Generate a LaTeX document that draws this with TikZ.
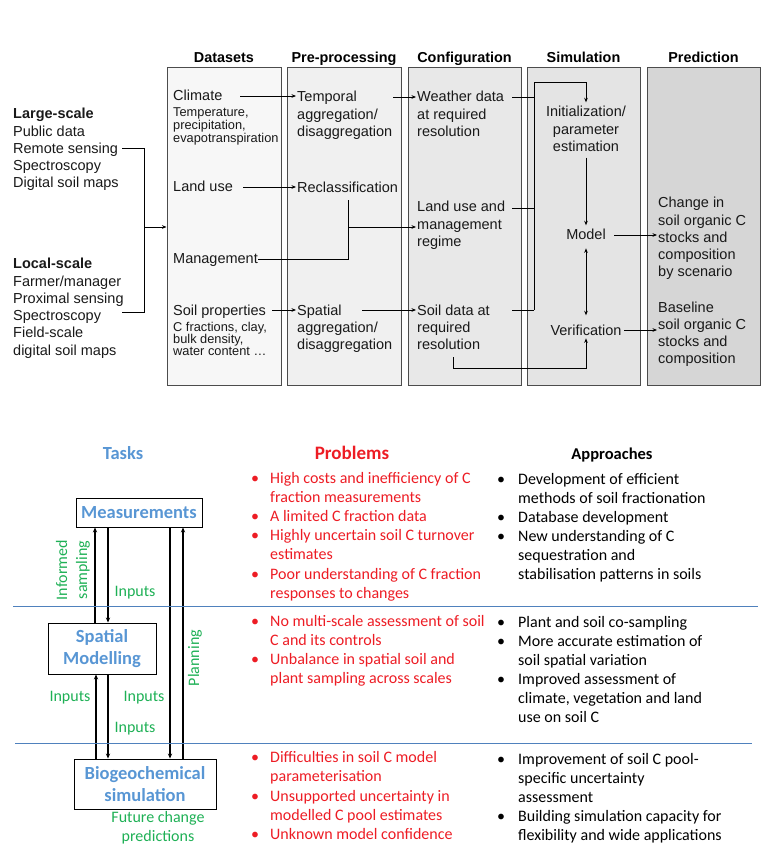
\documentclass[tikz,border=0pt]{standalone}
\usepackage{fontspec}
\setmainfont{Liberation Sans}
\newfontfamily\calibri{Carlito}
\usetikzlibrary{arrows.meta}
\definecolor{taskblue}{RGB}{88,150,212}
\definecolor{probred}{RGB}{237,28,36}
\definecolor{labgreen}{RGB}{30,176,85}
\definecolor{sepblue}{RGB}{79,129,189}
\definecolor{dsfill}{HTML}{F7F7F7}
\definecolor{ppfill}{HTML}{F0F0F0}
\definecolor{cffill}{HTML}{E8E8E8}
\definecolor{smfill}{HTML}{E4E4E4}
\definecolor{pdfill}{HTML}{D6D6D6}
\newcommand\Lstk[1]{\vtop{\halign{##\hfil\cr#1\crcr}}}
\newcommand\Cstk[1]{\vtop{\halign{\hfil##\hfil\cr#1\crcr}}}
\tikzset{
  colbox/.style={draw=black!70, line width=1pt, minimum height=317pt, inner sep=0},
  hdr/.style={font=\bfseries\fontsize{14.4}{17}\selectfont, inner sep=0, anchor=base},
  txt/.style={font=\fontsize{14.5}{17.2}\selectfont, inner sep=0, anchor=base west, text=black!90},
  ctxt/.style={font=\fontsize{14.5}{17.2}\selectfont, inner sep=0, anchor=base, text=black!90},
  sml/.style={font=\fontsize{12.8}{11.9}\selectfont, inner sep=0, anchor=base west, text=black!90},
  arr/.style={-{Stealth[length=4.5pt,width=3.6pt]}, line width=0.8pt},
  ln/.style={line width=0.9pt},
  thk/.style={line width=1.6pt},
  taskbox/.style={draw=black, line width=0.9pt, font=\calibri\bfseries\fontsize{18.5}{22.5}\selectfont, text=taskblue, inner sep=0},
  barr/.style={-{Stealth[length=5pt,width=4.2pt]}, line width=1.1pt},
  lbl/.style={font=\calibri\fontsize{16}{20}\selectfont, text=labgreen, inner sep=0},
  prob/.style={font=\calibri\fontsize{16}{19}\selectfont, text=probred, inner sep=0, anchor=base west},
  appr/.style={font=\calibri\fontsize{16}{19}\selectfont, text=black, inner sep=0, anchor=base west},
  sep/.style={draw=sepblue, line width=0.8pt}
}
\begin{document}
\begin{tikzpicture}[x=1pt,y=-1pt]
\useasboundingbox (0,0) rectangle (768,866);
% ---------- top: columns ----------
\node[colbox, fill=dsfill, minimum width=114pt] (dsbox) at (224,226.5) {};
\node[colbox, fill=ppfill, minimum width=114pt] (ppbox) at (344,226.5) {};
\node[colbox, fill=cffill, minimum width=113pt] (cfbox) at (464.5,226.5) {};
\node[colbox, fill=smfill, minimum width=113pt] (smbox) at (583.5,226.5) {};
\node[colbox, fill=pdfill, minimum width=113pt] (pdbox) at (703.5,226.5) {};
\node[hdr] (hds) at (224,63) {Datasets};
\node[hdr] (hpp) at (344,63) {Pre-processing};
\node[hdr] (hcf) at (464.5,63) {Configuration};
\node[hdr] (hsm) at (583.5,63) {Simulation};
\node[hdr] (hpd) at (703.5,63) {Prediction};
% left sources
\node[txt] (large) at (13,119) {\Lstk{\textbf{Large-scale}\cr Public data\cr Remote sensing\cr Spectroscopy\cr Digital soil maps}};
\node[txt] (local) at (13,269) {\Lstk{\textbf{Local-scale}\cr Farmer/manager\cr Proximal sensing\cr Spectroscopy\cr Field-scale\cr digital soil maps}};
\coordinate (b1) at (122,148);
\coordinate (b2) at (144,148);
\coordinate (b3) at (144,312);
\coordinate (b4) at (122,312);
\coordinate (bm) at (144,227);
\draw[ln] (b1) -- (b2) -- (b3) -- (b4);
\draw[arr] (bm) -- (bm -| dsbox.west);
% datasets
\node[txt] (climate) at (173,101) {Climate};
\node[sml] (climsub) at (173,117) {\Lstk{Temperature,\cr precipitation,\cr evapotranspiration}};
\node[txt] (landuse) at (173,192) {Land use};
\node[txt] (mgmt) at (173,264) {Management};
\node[txt] (soilprop) at (173,315) {Soil properties};
\node[sml] (soilsub) at (173,331) {\Lstk{C fractions, clay,\cr bulk density,\cr water content …}};
% pre-processing
\node[txt] (temporal) at (297,102) {\Lstk{Temporal\cr aggregation/\cr disaggregation}};
\node[txt] (reclass) at (297,193) {Reclassification};
\node[txt] (spatial) at (297,315) {\Lstk{Spatial\cr aggregation/\cr disaggregation}};
% configuration
\node[txt] (weather) at (417,102) {\Lstk{Weather data\cr at required\cr resolution}};
\node[txt] (lumgmt) at (417,212) {\Lstk{Land use and\cr management\cr regime}};
\node[txt] (soildata) at (417,315) {\Lstk{Soil data at\cr required\cr resolution}};
% simulation
\node[ctxt] (init) at (586,117) {\Cstk{Initialization/\cr parameter\cr estimation}};
\node[ctxt] (model) at (586,240) {Model};
\node[ctxt] (verif) at (586,335) {Verification};
% prediction
\node[txt] (change) at (658,208) {\Lstk{Change in\cr soil organic C\cr stocks and\cr composition\cr by scenario}};
\node[txt] (baseline) at (658,312) {\Lstk{Baseline\cr soil organic C\cr stocks and\cr composition}};
% top connectors
\coordinate (c1) at (240,96);
\coordinate (c2) at (243,187);
\coordinate (c3) at (258,259);
\coordinate (mtop) at (348,200);
\coordinate (mj) at (348,227);
\coordinate (c4) at (272,310);
\coordinate (c5) at (393,97);
\coordinate (c6) at (362,310);
\draw[arr, shorten >=1pt] (c1) -- (c1 -| temporal.west);
\draw[arr, shorten >=1pt] (c2) -- (c2 -| reclass.west);
\draw[ln] (c3) -| (mtop);
\draw[arr, shorten >=1pt] (mj) -- (mj -| lumgmt.west);
\draw[arr, shorten >=1pt] (c4) -- (c4 -| spatial.west);
\draw[arr, shorten >=1pt] (c5) -- (c5 -| weather.west);
\draw[arr, shorten >=1pt] (c6) -- (c6 -| soildata.west);
\coordinate (w1) at (512,97);
\coordinate (l1) at (512,208);
\coordinate (s1) at (512,310);
\coordinate (busT) at (534,82);
\coordinate (busB) at (534,310);
\draw[ln] (w1) -- (w1 -| busT);
\draw[ln] (l1) -- (l1 -| busT);
\draw[ln] (s1) -- (busB);
\draw[thk, arr] (busB) -- (busT) -| ([yshift=4pt]init.north);
\coordinate (sd1) at (453,357);
\coordinate (sd2) at (453,368);
\draw[thk, arr] (sd1) -- (sd2) -| ([yshift=-3pt]verif.south);
\draw[arr, shorten <=6pt, shorten >=4pt] (init.south) -- (model.north);
\draw[{Stealth[length=4.5pt,width=3.6pt]}-{Stealth[length=4.5pt,width=3.6pt]}, line width=0.8pt, shorten <=8pt, shorten >=9pt] (model.south) -- (verif.north);
\coordinate (m1) at (614,235);
\coordinate (v1) at (624,330);
\draw[arr, shorten >=1pt] (m1) -- (m1 -| change.west);
\draw[arr, shorten >=1pt] (v1) -- (v1 -| baseline.west);
% ---------- bottom ----------
\node[font=\calibri\bfseries\fontsize{18.5}{22}\selectfont, text=taskblue, inner sep=0] (tasks) at (123,453) {Tasks};
\node[font=\calibri\bfseries\fontsize{19}{22}\selectfont, text=probred, inner sep=0] (problems) at (352,453) {Problems};
\node[font=\calibri\bfseries\fontsize{16.5}{22}\selectfont, text=black, inner sep=0] (approaches) at (612,455) {Approaches};
\node[taskbox, minimum width=126pt, minimum height=29pt] (meas) at (139,512.5) {Measurements};
\node[taskbox, minimum width=108pt, minimum height=51pt] (smod) at (102,648.5) {\Cstk{Spatial\cr Modelling}};
\node[taskbox, minimum width=142pt, minimum height=50pt] (bio) at (145,784) {\Cstk{Biogeochemical\cr simulation}};
\draw[barr] ([xshift=-7pt]smod.north) -- ([xshift=-44pt]meas.south);
\draw[barr] ([xshift=-31pt]meas.south) -- ([xshift=6pt]smod.north);
\draw[barr] ([xshift=31pt]meas.south) -- ([xshift=25pt]bio.north);
\draw[barr] ([xshift=38pt]bio.north) -- ([xshift=44pt]meas.south);
\draw[barr] ([xshift=-49pt]bio.north) -- ([xshift=-6pt]smod.south);
\draw[barr] ([xshift=6pt]smod.south) -- ([xshift=-37pt]bio.north);
\node[lbl, rotate=90] (informed) at (73,570) {\Cstk{Informed\cr sampling}};
\node[lbl, rotate=90] (planning) at (195,658) {Planning};
\node[lbl] (in1) at (135,593) {Inputs};
\node[lbl] (in2) at (70,698) {Inputs};
\node[lbl] (in3) at (144,698) {Inputs};
\node[lbl] (in4) at (135,729) {Inputs};
\node[lbl, font=\calibri\fontsize{16}{19}\selectfont] (future) at (158,828) {\Cstk{Future change\cr predictions}};
\coordinate (s1a) at (13,606);
\coordinate (s1b) at (758,606);
\coordinate (s2a) at (15,743);
\coordinate (s2b) at (752,743);
\draw[sep] (s1a) -- (s1b);
\draw[sep] (s2a) -- (s2b);
% problems
\node[prob] (p1) at (251,483.5) {\makebox[19pt][l]{•}\Lstk{High costs and inefficiency of C\cr fraction measurements}};
\node[prob] (p2) at (251,521.5) {\makebox[19pt][l]{•}\Lstk{A limited C fraction data}};
\node[prob] (p3) at (251,540.5) {\makebox[19pt][l]{•}\Lstk{Highly uncertain soil C turnover\cr estimates}};
\node[prob] (p4) at (251,579.5) {\makebox[19pt][l]{•}\Lstk{Poor understanding of C fraction\cr responses to changes}};
\node[prob] (p5) at (251,626.5) {\makebox[19pt][l]{•}\Lstk{No multi-scale assessment of soil\cr C and its controls}};
\node[prob] (p6) at (251,664.5) {\makebox[19pt][l]{•}\Lstk{Unbalance in spatial soil and\cr plant sampling across scales}};
\node[prob] (p7) at (251,762.5) {\makebox[19pt][l]{•}\Lstk{Difficulties in soil C model\cr parameterisation}};
\node[prob] (p8) at (251,801.5) {\makebox[19pt][l]{•}\Lstk{Unsupported uncertainty in\cr modelled C pool estimates}};
\node[prob] (p9) at (251,839.5) {\makebox[19pt][l]{•}\Lstk{Unknown model confidence}};
% approaches
\node[appr] (a1) at (497,484.5) {\makebox[21pt][l]{•}\Lstk{Development of efficient\cr methods of soil fractionation}};
\node[appr] (a2) at (497,522.5) {\makebox[21pt][l]{•}\Lstk{Database development}};
\node[appr] (a3) at (497,541.5) {\makebox[21pt][l]{•}\Lstk{New understanding of C\cr sequestration and\cr stabilisation patterns in soils}};
\node[appr] (a4) at (497,627.5) {\makebox[21pt][l]{•}\Lstk{Plant and soil co-sampling}};
\node[appr] (a5) at (497,646.5) {\makebox[21pt][l]{•}\Lstk{More accurate estimation of\cr soil spatial variation}};
\node[appr] (a6) at (497,684.5) {\makebox[21pt][l]{•}\Lstk{Improved assessment of\cr climate, vegetation and land\cr use on soil C}};
\node[appr] (a7) at (497,764.5) {\makebox[21pt][l]{•}\Lstk{Improvement of soil C pool-\cr specific uncertainty\cr assessment}};
\node[appr] (a8) at (497,821.5) {\makebox[21pt][l]{•}\Lstk{Building simulation capacity for\cr flexibility and wide applications}};
\end{tikzpicture}
\end{document}
